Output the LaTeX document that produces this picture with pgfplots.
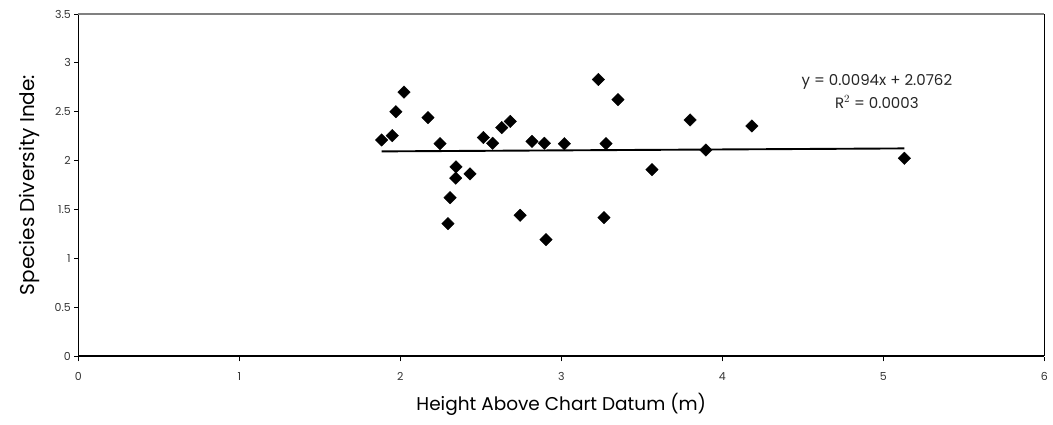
\documentclass[border=0pt]{standalone}
\usepackage{pgfplots}
\pgfplotsset{compat=1.18}
\usepackage{fontspec}
\setmainfont{Poppins}

\pgfplotstableread{
x      y
1.884  2.211
1.950  2.255
1.973  2.500
2.023  2.700
2.172  2.440
2.247  2.173
2.346  1.935
2.344  1.820
2.433  1.863
2.309  1.620
2.296  1.354
2.516  2.235
2.574  2.177
2.630  2.337
2.683  2.400
2.744  1.440
2.818  2.197
2.895  2.177
2.905  1.190
3.019  2.173
3.230  2.830
3.278  2.173
3.265  1.416
3.352  2.623
3.563  1.907
3.800  2.416
3.898  2.108
4.184  2.354
5.131  2.023
}\diversity

% end points of the least-squares line y = 0.0094x + 2.0762
\pgfplotstableread{
x      y
1.884  2.0939
5.131  2.1244
}\trend

\begin{document}
\begin{tikzpicture}[x=1pt,y=1pt]
\begin{axis}[
  scale only axis,
  width=966pt, height=342pt,
  xmin=0, xmax=6, ymin=0, ymax=3.5,
  xtick={0,1,...,6},
  ytick={0,0.5,...,3.5},
  axis x line*=bottom,
  axis y line*=left,
  axis line style={black, line width=1.3pt, -},
  tick style={black, line width=0.8pt},
  xtick style={yshift=-1.5pt},
  major tick length=4pt,
  tick align=outside,
  /pgf/number format/assume math mode=true,
  tick label style={font=\fontsize{11}{13}\selectfont, text=black!80},
  xticklabel style={yshift=-9pt},
  xlabel={Height Above Chart Datum (m)},
  ylabel={Species Diversity Inde:},
  xlabel style={font=\fontsize{18.5}{20}\selectfont, yshift=-6pt},
  ylabel style={font=\fontsize{20}{22}\selectfont, yshift=8pt},
  clip=false,
]
  % top and right frame edges
  \draw[black!50, line width=2pt] (rel axis cs:0,1) -- (rel axis cs:1,1);
  \draw[black, line width=1.3pt] (rel axis cs:1,0) -- (rel axis cs:1,1);

  \addplot[only marks, mark=square*, mark size=4.4pt,
           mark options={rotate=45, fill=black, draw=black}]
    table[x=x, y=y] {\diversity};

  \addplot[black, line width=1.9pt, no marks] table[x=x, y=y] {\trend};

  \node[align=center, font=\fontsize{15}{23}\selectfont, text=black!85]
    at (axis cs:4.96,2.71) {y = 0.0094x + 2.0762\\R$^{2}$ = 0.0003};
\end{axis}
% picture extent
\path (-78.3pt,-69pt) rectangle (974.7pt,356pt);
\end{tikzpicture}
\end{document}
